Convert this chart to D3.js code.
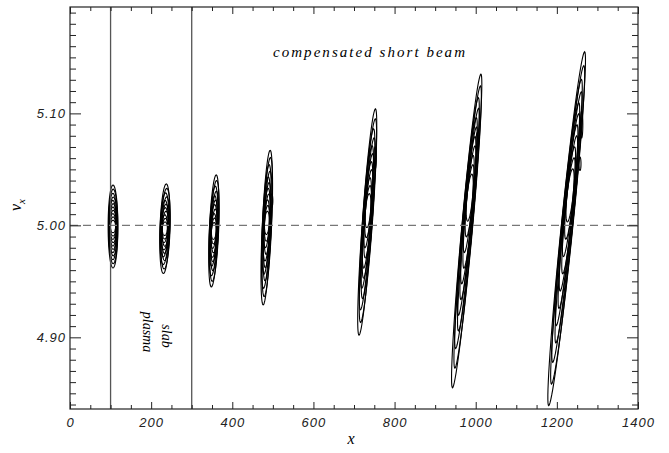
<!DOCTYPE html>
<html><head><meta charset="utf-8">
<script src="https://cdn.jsdelivr.net/npm/d3@7"></script>
<style>body{margin:0;background:#fff}svg{display:block}</style>
</head><body>
<svg id="c" width="669" height="453"></svg>
<script>
// ---- data ----
const xTicks = [0, 200, 400, 600, 800, 1000, 1200, 1400];
const yTicks = [4.90, 5.00, 5.10];
const slabEdges = [100, 300];
const refV = 5.0;
// beam snapshots (contour clusters)
const clusterX     = [106, 234, 355, 485, 732, 979, 1225];   // x at v = 5
const clusterV     = [4.999, 4.997, 4.995, 4.998, 5.003, 4.995, 4.997];
const clusterDV    = [0.037, 0.040, 0.050, 0.069, 0.101, 0.140, 0.158];
const clusterDX    = [12, 12, 11, 11, 12, 13, 14];
const clusterShear = [0, 90, 120, 125, 200, 250, 280];   // dx/dv tilt
const clusterShift = [0, 0, 0, 0.005, 0.012, 0.035, 0.035]; // inner-contour centre shift in v
const contourLevels = [1, 0.9, 0.8, 0.71, 0.63, 0.55, 0.47, 0.39, 0.31, 0.23, 0.15];
const levelOffsetX  = [0, 1.5, -1, 2, -1.5, 1, -0.5, 1.5, -1, 0.5, 0];
// small contour islands on the cluster edges
const islandX  = [497, 752, 1004, 1261, 1257];
const islandV  = [5.022, 5.06, 5.075, 5.09, 5.055];
const islandDV = [0.006, 0.01, 0.008, 0.012, 0.006];
const islandDX = [3, 3, 3, 3, 2.5];

const svg = d3.select("#c");
const L = 70, R = 638, T = 7, B = 409;
const x = d3.scaleLinear([0, 1400], [L, R]);
const y = d3.scaleLinear([4.836, 5.195], [B, T]);
const axisCol = "#222";

// contours
const line = d3.line().x(d => x(d[0])).y(d => y(d[1])).curve(d3.curveLinearClosed);
const gC = svg.append("g");
function ellipse(xc, vc, dx, dv, k) {
  return d3.range(0, 72).map(j => {
    const t = j / 72 * 2 * Math.PI;
    const v = vc + dv * Math.sin(t);
    return [xc + dx * Math.cos(t) + k * (v - refV), v];
  });
}
clusterX.forEach((xc, i) => {
  contourLevels.forEach((lv, j) => {
    const vc = clusterV[i] + clusterShift[i] * (1 - lv);
    const dv = clusterDV[i] * lv;
    const dx = clusterDX[i] * (0.45 + 0.55 * lv);
    const off = i === 0 ? levelOffsetX[j] * 0.3 : levelOffsetX[j];
    gC.append("path").attr("d", line(ellipse(xc + off, vc, dx, dv, clusterShear[i])))
      .attr("fill", "none").attr("stroke", "#000").attr("stroke-width", 1.1);
  });
});
islandX.forEach((xc, i) => {
  gC.append("path").attr("d", line(ellipse(xc, islandV[i], islandDX[i], islandDV[i], 0)))
    .attr("fill", "none").attr("stroke", "#000").attr("stroke-width", 1.1);
});

// dashed reference line
svg.append("line").attr("x1", L).attr("x2", R).attr("y1", y(refV)).attr("y2", y(refV))
  .attr("stroke", "#777").attr("stroke-width", 1.3).attr("stroke-dasharray", "8,5");

// slab edges
slabEdges.forEach(s => svg.append("line").attr("x1", x(s)).attr("x2", x(s))
  .attr("y1", T).attr("y2", B).attr("stroke", "#555").attr("stroke-width", 1.3));

// axes
const xMinor = d3.range(0, 1401, 50).filter(v => v % 200 !== 0);
const yMinor = d3.range(484, 520).map(v => v / 100).filter(v => Math.round(v * 100) % 10 !== 0);
const tickFont = "italic 13px 'Liberation Sans', Arial, sans-serif";

function styleAxis(g) {
  g.select(".domain").remove();
  g.selectAll("line").attr("stroke", axisCol);
  g.selectAll("text").style("font", tickFont).attr("fill", "#222").style("letter-spacing", "1px");
}
// bottom
svg.append("g").attr("transform", `translate(0,${B})`)
  .call(d3.axisBottom(x).tickValues(xTicks).tickSize(-7).tickPadding(9).tickFormat(d3.format("d"))).call(styleAxis);
svg.append("g").attr("transform", `translate(0,${B})`)
  .call(d3.axisBottom(x).tickValues(xMinor).tickSize(-4).tickFormat("")).call(styleAxis);
// top
svg.append("g").attr("transform", `translate(0,${T})`)
  .call(d3.axisTop(x).tickValues(xTicks).tickSize(-7).tickFormat("")).call(styleAxis);
svg.append("g").attr("transform", `translate(0,${T})`)
  .call(d3.axisTop(x).tickValues(xMinor).tickSize(-4).tickFormat("")).call(styleAxis);
// left
svg.append("g").attr("transform", `translate(${L},0)`)
  .call(d3.axisLeft(y).tickValues(yTicks).tickSize(-11).tickPadding(4).tickFormat(d3.format(".2f"))).call(styleAxis);
svg.append("g").attr("transform", `translate(${L},0)`)
  .call(d3.axisLeft(y).tickValues(yMinor).tickSize(-6).tickFormat("")).call(styleAxis);
// right
svg.append("g").attr("transform", `translate(${R},0)`)
  .call(d3.axisRight(y).tickValues(yTicks).tickSize(-11).tickFormat("")).call(styleAxis);
svg.append("g").attr("transform", `translate(${R},0)`)
  .call(d3.axisRight(y).tickValues(yMinor).tickSize(-6).tickFormat("")).call(styleAxis);

// frame
svg.append("rect").attr("x", L).attr("y", T).attr("width", R - L).attr("height", B - T)
  .attr("fill", "none").attr("stroke", axisCol).attr("stroke-width", 1.2);

const serif = "'Liberation Serif', 'DejaVu Serif', serif";
// axis titles
svg.append("text").attr("x", (L + R) / 2 - 3).attr("y", 444).attr("text-anchor", "middle")
  .style("font-family", serif).style("font-style", "italic").style("font-size", "16px").text("x");
const yl = svg.append("text").attr("transform", "translate(21,205) rotate(-90)").attr("text-anchor", "middle")
  .style("font-family", serif).style("font-style", "italic").style("font-size", "16px");
yl.append("tspan").text("v");
yl.append("tspan").attr("dy", 4).style("font-size", "11px").text("x");

// annotations
svg.append("text").attr("x", 273).attr("y", 57).attr("textLength", 192)
  .style("font-family", serif).style("font-style", "italic").style("font-size", "15px")
  .text("compensated short beam");
const ps = svg.append("g").attr("transform", "translate(152,332)");
ps.append("text").attr("transform", "translate(-9,0) rotate(90)").attr("text-anchor", "middle")
  .style("font-family", serif).style("font-style", "italic").style("font-size", "14px").text("plasma");
ps.append("text").attr("transform", "translate(10,4) rotate(90)").attr("text-anchor", "middle")
  .style("font-family", serif).style("font-style", "italic").style("font-size", "14px").text("slab");
</script>
</body></html>
